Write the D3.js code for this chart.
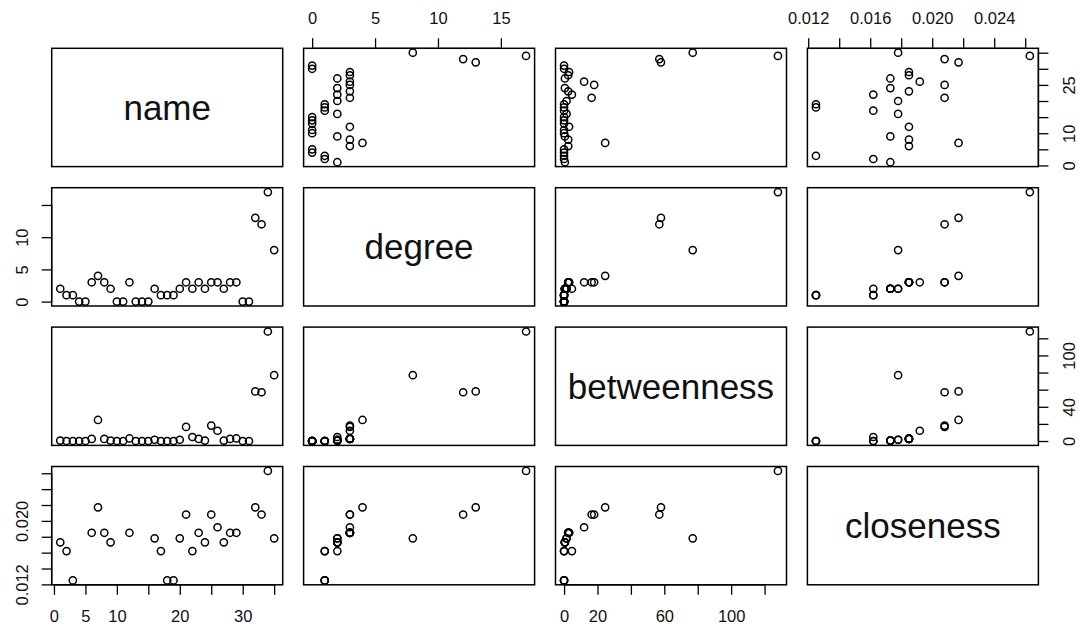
<!DOCTYPE html>
<html>
<head>
<meta charset="utf-8">
<script src="https://cdn.jsdelivr.net/npm/d3@7"></script>
<style>
  body { margin: 0; background: #fff; }
  svg { display: block; font-family: "Liberation Sans", Arial, sans-serif; }
</style>
</head>
<body>
<svg id="chart"></svg>
<script>
// pairs() plot of four node measures

var varNames = ['name', 'degree', 'betweenness', 'closeness']

// note: 'name' clashes with window.name, so use nodeName
var nodeName = [1, 2, 3, 4, 5, 6, 7, 8, 9, 10, 11, 12, 13, 14, 15, 16, 17, 18,
    19, 20, 21, 22, 23, 24, 25, 26, 27, 28, 29, 30, 31, 32, 33, 34, 35]
var degree = [2, 1, 1, 0, 0, 3, 4, 3, 2, 0, 0, 3, 0, 0, 0, 2, 1, 1,
    1, 2, 3, 2, 3, 2, 3, 3, 2, 3, 3, 0, 0, 13, 12, 17, 8]
var betweenness = [0.5, 0, 0, 0, 0, 2.5, 24.6, 2.5, 0.5, 0, 0, 3, 0, 0, 0, 1.5, 0, 0,
    0, 1.5, 16.5, 4.7, 2.5, 0.5, 18, 12, 0.5, 2.5, 3, 0, 0, 58, 57, 128, 77]
var closeness = [0.0173, 0.0162, 0.0125, null, null, 0.0185, 0.0217, 0.0185, 0.0173, null, null, 0.0185, null, null, null, 0.0178, 0.0162, 0.0125,
    0.0125, 0.0178, 0.0208, 0.0162, 0.0185, 0.0173, 0.0208, 0.0192, 0.0173, 0.0185, 0.0185, null, null, 0.0217, 0.0208, 0.0263, 0.0178]

// tick positions and which of them carry a label (R drops overlapping ones)
var nameTicks = [0, 5, 10, 15, 20, 25, 30, 35]
var degreeTicks = [0, 5, 10, 15]
var betweenTicks = [0, 20, 40, 60, 80, 100, 120]
var closeTicks = [0.012, 0.014, 0.016, 0.018, 0.020, 0.022, 0.024, 0.026]

var nameLabelsBottom = ['0', '5', '10', '', '20', '', '30', '']
var nameLabelsRight = ['0', '', '10', '', '', '25', '', '']
var degreeLabelsTop = ['0', '5', '10', '15']
var degreeLabelsLeft = ['0', '5', '10', '']
var betweenLabelsBottom = ['0', '20', '', '60', '', '100', '']
var betweenLabelsRight = ['0', '', '40', '', '', '100', '']
var closeLabelsTop = ['0.012', '', '0.016', '', '0.020', '', '0.024', '']
var closeLabelsLeft = ['0.012', '', '', '', '0.020', '', '', '']

var columns = [nodeName, degree, betweenness, closeness]

var width = 1079, height = 628
var left0 = 51.7, top0 = 48.3
var cellW = 231, cellH = 118.3, gapX = 20.9, gapY = 21.1

var svg = d3.select('#chart')
    .attr('width', width)
    .attr('height', height)

// R style ranges: data range stretched 4% on each side
function rangeOf(arr) {
    var v = arr.filter(function(d) { return d != null })
    var lo = d3.min(v), hi = d3.max(v)
    var pad = (hi - lo) * 0.04
    return [lo - pad, hi + pad]
}

var xScales = columns.map(function(arr) {
    return d3.scaleLinear().domain(rangeOf(arr)).range([0, cellW])
})
var yScales = columns.map(function(arr) {
    return d3.scaleLinear().domain(rangeOf(arr)).range([cellH, 0])
})

for (var r = 0; r < 4; r++) {
    for (var c = 0; c < 4; c++) {
        var g = svg.append('g')
            .attr('transform', 'translate(' + (left0 + c * (cellW + gapX)) + ',' + (top0 + r * (cellH + gapY)) + ')')

        if (r == c) {
            g.append('text')
                .attr('x', cellW / 2)
                .attr('y', cellH / 2)
                .attr('text-anchor', 'middle')
                .attr('dominant-baseline', 'central')
                .attr('font-size', 35)
                .attr('fill', '#111')
                .text(varNames[r])
        } else {
            var xs = xScales[c], ys = yScales[r]
            var xv = columns[c], yv = columns[r]
            var pts = d3.range(nodeName.length).filter(function(i) {
                return xv[i] != null && yv[i] != null
            })
            g.selectAll('circle')
                .data(pts)
                .enter()
                .append('circle')
                .attr('cx', function(i) { return xs(xv[i]) })
                .attr('cy', function(i) { return ys(yv[i]) })
                .attr('r', 3.6)
                .attr('fill', 'none')
                .attr('stroke', '#000')
                .attr('stroke-width', 1.5)
        }

        g.append('rect')
            .attr('width', cellW)
            .attr('height', cellH)
            .attr('fill', 'none')
            .attr('stroke', '#000')
            .attr('stroke-width', 1.5)
    }
}

function styleAxis(sel) {
    sel.selectAll('line').attr('stroke', '#000').attr('stroke-width', 1.3)
    sel.selectAll('text').attr('fill', '#111').attr('font-size', 16.5)
        .attr('font-family', '"Liberation Sans", Arial, sans-serif')
}

function addAxis(kind, col, row, ticks, labels, scale) {
    var gx = left0 + col * (cellW + gapX)
    var gy = top0 + row * (cellH + gapY)
    var ax
    if (kind == 'bottom') { ax = d3.axisBottom(scale); gy += cellH }
    if (kind == 'top') { ax = d3.axisTop(scale) }
    if (kind == 'left') { ax = d3.axisLeft(scale) }
    if (kind == 'right') { ax = d3.axisRight(scale); gx += cellW }
    ax.tickValues(ticks)
        .tickSize(10)
        .tickSizeOuter(0)
        .tickFormat(function(d, i) { return labels[i] })

    var a = svg.append('g')
        .attr('transform', 'translate(' + gx + ',' + gy + ')')
        .call(ax)
    a.select('.domain').remove()
    // R draws the axis line only from first to last tick
    var p0 = scale(ticks[0]), p1 = scale(ticks[ticks.length - 1])
    if (kind == 'bottom' || kind == 'top') {
        a.append('line').attr('x1', p0).attr('x2', p1).attr('y1', 0).attr('y2', 0)
    } else {
        a.append('line').attr('y1', p0).attr('y2', p1).attr('x1', 0).attr('x2', 0)
    }

    var t = a.selectAll('.tick text')
        .attr('dy', null)
        .attr('dominant-baseline', 'central')
        .attr('text-anchor', 'middle')
    if (kind == 'bottom') t.attr('y', 31)
    if (kind == 'top') t.attr('y', -30)
    if (kind == 'left') t.attr('x', null).attr('transform', 'translate(-30,0) rotate(-90)')
    if (kind == 'right') t.attr('x', null).attr('transform', 'translate(31,0) rotate(-90)')
    styleAxis(a)
}

addAxis('top', 1, 0, degreeTicks, degreeLabelsTop, xScales[1])
addAxis('top', 3, 0, closeTicks, closeLabelsTop, xScales[3])
addAxis('bottom', 0, 3, nameTicks, nameLabelsBottom, xScales[0])
addAxis('bottom', 2, 3, betweenTicks, betweenLabelsBottom, xScales[2])
addAxis('left', 0, 1, degreeTicks, degreeLabelsLeft, yScales[1])
addAxis('left', 0, 3, closeTicks, closeLabelsLeft, yScales[3])
addAxis('right', 3, 0, nameTicks, nameLabelsRight, yScales[0])
addAxis('right', 3, 2, betweenTicks, betweenLabelsRight, yScales[2])
</script>
</body>
</html>
